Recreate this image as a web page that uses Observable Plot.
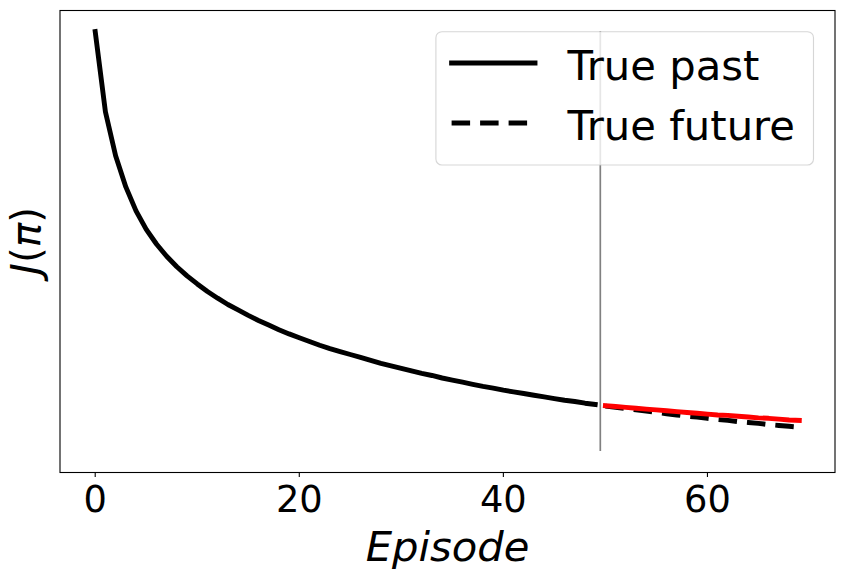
<!DOCTYPE html>
<html>
<head>
<meta charset="utf-8">
<script src="https://cdn.jsdelivr.net/npm/d3@7"></script>
<script src="https://cdn.jsdelivr.net/npm/@observablehq/plot@0.6"></script>
<style>
  html, body { margin: 0; padding: 0; background: #ffffff; }
  #chart { position: relative; width: 843px; height: 580px; }
</style>
</head>
<body>
<div id="chart"></div>
<script>
// ---- data (arbitrary J units, no y ticks) ----
const pastJ = [
  1.000, 0.809, 0.704, 0.630, 0.573, 0.529, 0.494, 0.465, 0.440, 0.418,
  0.399, 0.381, 0.365, 0.350, 0.337, 0.324, 0.312, 0.301, 0.290, 0.280,
  0.271, 0.262, 0.253, 0.245, 0.238, 0.231, 0.224, 0.217, 0.210, 0.204,
  0.198, 0.192, 0.186, 0.181, 0.175, 0.170, 0.165, 0.160, 0.155, 0.151,
  0.146, 0.142, 0.138, 0.134, 0.130, 0.126, 0.122, 0.119, 0.115, 0.112
];
const futureStart = 50;
const futureJ = [
  0.108, 0.105, 0.102, 0.099, 0.096, 0.093, 0.090, 0.087, 0.084, 0.082,
  0.079, 0.076, 0.074, 0.071, 0.069, 0.067, 0.064, 0.062, 0.060, 0.058
];
const predictedJ = [
  0.109, 0.107, 0.105, 0.103, 0.101, 0.099, 0.097, 0.095, 0.093, 0.091,
  0.089, 0.087, 0.086, 0.084, 0.082, 0.080, 0.079, 0.077, 0.075, 0.074
];
const splitEpisode = 49.5;
const splitRange = [0, 1];
const xTicks = [0, 20, 40, 60];
const legendLabels = ["True past", "True future"];

// ---- tables built from the arrays ----
const past = pastJ.map((J, i) => ({episode: i, J}));
const future = futureJ.map((J, i) => ({episode: futureStart + i, J}));
const predicted = predictedJ.map((J, i) => ({episode: futureStart + i, J}));

const W = 843, H = 580;
const mL = 59.5, mR = 8.5, mT = 10, mB = 108;
const FONT = "DejaVu Sans";

const plot = Plot.plot({
  width: W,
  height: H,
  marginLeft: mL,
  marginRight: mR,
  marginTop: mT,
  marginBottom: mB,
  style: {fontFamily: FONT, background: "white", color: "black"},
  x: {domain: [-3.45, 72.5]},
  y: {domain: [-0.05, 1.05], axis: null},
  marks: [
    Plot.ruleX([splitEpisode], {y1: splitRange[0], y2: splitRange[1], stroke: "#808080", strokeWidth: 1.7}),
    Plot.line(past, {x: "episode", y: "J", stroke: "black", strokeWidth: 4.9, strokeLinecap: "square", strokeLinejoin: "round"}),
    Plot.line(future, {x: "episode", y: "J", stroke: "black", strokeWidth: 4.9, strokeDasharray: "18.5,10", strokeLinecap: "butt", strokeLinejoin: "round"}),
    Plot.line(predicted, {x: "episode", y: "J", stroke: "#ff0000", strokeWidth: 4.9, strokeLinecap: "square", strokeLinejoin: "round"}),
    Plot.axisX({ticks: xTicks, tickSize: 4.9, tickPadding: 8.8, fontSize: 36.8, tickFormat: d => String(d), label: null, strokeWidth: 1.1}),
    Plot.axisX({ticks: [], tickSize: 0, label: "Episode", labelAnchor: "center", labelArrow: "none", labelOffset: 88, fontSize: 41.7, fontStyle: "italic"}),
    Plot.frame({stroke: "black", strokeWidth: 1.1})
  ]
});

document.getElementById("chart").appendChild(plot);

// ---- y-axis label J(π) ----
const svg = d3.select(plot);
const yl = svg.append("text")
  .attr("transform", `translate(39.5, ${(mT + H - mB) / 2}) rotate(-90)`)
  .attr("text-anchor", "middle")
  .attr("font-family", FONT)
  .attr("font-size", 40.5)
  .attr("fill", "black");
yl.append("tspan").attr("font-style", "italic").text("J");
yl.append("tspan").text("(");
yl.append("tspan").attr("font-style", "italic").text("π");
yl.append("tspan").text(")");

// ---- legend (upper right, inside the frame) ----
const legW = 377.6, legH = 133.3;
const legX = W - mR - 21 - legW, legY = mT + 21.7;
const lg = svg.append("g").attr("transform", `translate(${legX},${legY})`);
lg.append("rect")
  .attr("width", legW).attr("height", legH)
  .attr("rx", 6).attr("ry", 6)
  .attr("fill", "white").attr("fill-opacity", 0.8)
  .attr("stroke", "#cccccc").attr("stroke-opacity", 0.8).attr("stroke-width", 1.1);
const rows = [
  {label: legendLabels[0], dash: null, cap: "square", ly: 31.3, ty: 48.3},
  {label: legendLabels[1], dash: "18.5,10", cap: "butt", ly: 91.3, ty: 108.3}
];
rows.forEach(r => {
  const ln = lg.append("line")
    .attr("x1", 15.7).attr("x2", 99.1)
    .attr("y1", r.ly).attr("y2", r.ly)
    .attr("stroke", "black").attr("stroke-width", 4.9)
    .attr("stroke-linecap", r.cap);
  if (r.dash) ln.attr("stroke-dasharray", r.dash);
  lg.append("text")
    .attr("x", 131.5).attr("y", r.ty)
    .attr("text-anchor", "start")
    .attr("font-family", FONT).attr("font-size", 41.7)
    .attr("fill", "black")
    .text(r.label);
});
</script>
</body>
</html>
